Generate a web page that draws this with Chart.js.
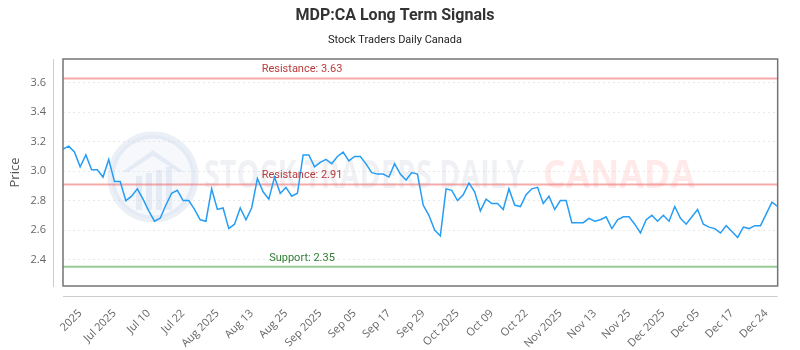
<!DOCTYPE html>
<html>
<head>
<meta charset="utf-8">
<script src="https://cdn.jsdelivr.net/npm/chart.js@4/dist/chart.umd.min.js"></script>
<style>
  html, body { margin: 0; padding: 0; background: #fff; }
</style>
</head>
<body>
<canvas id="myChart" width="800" height="350"></canvas>
<script>
// closing prices, one per trading day
const prices = [
  3.15, 3.17, 3.13, 3.03, 3.11, 3.01, 3.01, 2.96, 3.08, 2.93,
  2.93, 2.80, 2.83, 2.88, 2.81, 2.73, 2.66, 2.68, 2.77, 2.85,
  2.87, 2.80, 2.80, 2.74, 2.67, 2.66, 2.88, 2.74, 2.75, 2.61,
  2.64, 2.75, 2.67, 2.75, 2.95, 2.86, 2.81, 2.96, 2.85, 2.89,
  2.83, 2.85, 3.11, 3.11, 3.03, 3.06, 3.08, 3.05, 3.10, 3.13,
  3.07, 3.10, 3.10, 3.05, 2.99, 2.98, 2.98, 2.96, 3.05, 2.98,
  2.94, 2.99, 2.98, 2.77, 2.70, 2.60, 2.56, 2.88, 2.87, 2.80,
  2.84, 2.92, 2.86, 2.73, 2.81, 2.78, 2.78, 2.74, 2.88, 2.77,
  2.76, 2.84, 2.88, 2.89, 2.78, 2.83, 2.74, 2.80, 2.80, 2.65,
  2.65, 2.65, 2.68, 2.66, 2.67, 2.69, 2.61, 2.67, 2.69, 2.69,
  2.64, 2.58, 2.67, 2.70, 2.66, 2.70, 2.66, 2.76, 2.68, 2.64,
  2.69, 2.74, 2.64, 2.62, 2.61, 2.58, 2.63, 2.59, 2.55, 2.62,
  2.61, 2.63, 2.63, 2.71, 2.79, 2.76
];

const tickLabels = [
  '2025', 'Jul 2025', 'Jul 10', 'Jul 22', 'Aug 2025', 'Aug 13', 'Aug 25',
  'Sep 2025', 'Sep 05', 'Sep 17', 'Sep 29', 'Oct 2025', 'Oct 09', 'Oct 22',
  'Nov 2025', 'Nov 13', 'Nov 25', 'Dec 2025', 'Dec 05', 'Dec 17', 'Dec 24'
];

const levelNames = ['Resistance', 'Resistance', 'Support'];
const levelValues = [3.63, 2.91, 2.35];

const yTicks = [2.4, 2.6, 2.8, 3.0, 3.2, 3.4, 3.6];

// a label every 6th day, starting at the 4th
const tickStart = 3;
const tickStep = 6;
const labels = prices.map((p, i) =>
  (i - tickStart) % tickStep === 0 ? tickLabels[(i - tickStart) / tickStep] : '');

const levelColors = {
  Resistance: { line: 'rgba(238, 100, 100, 0.55)', text: '#b83b3b' },
  Support: { line: 'rgba(70, 160, 70, 0.55)', text: '#2f7d32' }
};

// faint logo + brand text behind the line
const watermark = {
  id: 'watermark',
  beforeDatasetsDraw(chart) {
    const ctx = chart.ctx;
    ctx.save();
    // round logo
    ctx.beginPath();
    ctx.arc(153, 177, 42, 0, Math.PI * 2);
    ctx.fillStyle = 'rgba(205, 218, 238, 0.18)';
    ctx.fill();
    ctx.lineWidth = 7;
    ctx.strokeStyle = 'rgba(190, 205, 228, 0.3)';
    ctx.stroke();
    ctx.fillStyle = 'rgba(190, 205, 228, 0.3)';
    ctx.beginPath();
    ctx.moveTo(122, 172);
    ctx.lineTo(153, 150);
    ctx.lineTo(184, 172);
    ctx.lineTo(178, 172);
    ctx.lineTo(153, 156);
    ctx.lineTo(128, 172);
    ctx.closePath();
    ctx.fill();
    [136, 146, 156, 166].forEach((x, k) => {
      ctx.fillRect(x, 176 - k * 3, 6, 34 + k * 3);
    });
    // brand text
    ctx.font = 'bold 40px "Open Sans"';
    ctx.textBaseline = 'alphabetic';
    ctx.textAlign = 'left';
    ctx.fillStyle = 'rgba(160, 170, 185, 0.16)';
    ctx.fillText('STOCK TRADERS DAILY', 204, 188, 320);
    ctx.fillStyle = 'rgba(255, 120, 120, 0.16)';
    ctx.fillText('CANADA', 543, 188, 152);
    ctx.restore();
  }
};

// level captions, frame and the detached axis lines
const decorations = {
  id: 'decorations',
  afterDraw(chart) {
    const ctx = chart.ctx;
    const area = chart.chartArea;
    const y = chart.scales.y;
    ctx.save();
    ctx.font = '11px Roboto';
    ctx.textAlign = 'center';
    ctx.textBaseline = 'middle';
    levelValues.forEach((v, i) => {
      ctx.fillStyle = levelColors[levelNames[i]].text;
      ctx.fillText(levelNames[i] + ': ' + v.toFixed(2), 302, y.getPixelForValue(v) - 9);
    });
    ctx.strokeStyle = '#747474';
    ctx.lineWidth = 1.5;
    ctx.strokeRect(area.left, area.top, area.right - area.left, area.bottom - area.top);
    ctx.strokeStyle = '#cccccc';
    ctx.lineWidth = 1;
    ctx.beginPath();
    ctx.moveTo(53.5, area.top);
    ctx.lineTo(53.5, area.bottom + 1);
    ctx.moveTo(area.left, area.bottom + 10.5);
    ctx.lineTo(area.right, area.bottom + 10.5);
    ctx.stroke();
    ctx.restore();
  }
};

const datasets = [{
  label: 'Price',
  data: prices,
  borderColor: '#259df5',
  borderWidth: 1.5,
  pointRadius: 0,
  tension: 0,
  fill: false
}];
levelValues.forEach((v, i) => {
  datasets.push({
    label: levelNames[i],
    data: prices.map(() => v),
    borderColor: levelColors[levelNames[i]].line,
    borderWidth: 2,
    pointRadius: 0,
    fill: false
  });
});

const ctx = document.getElementById('myChart');
new Chart(ctx, {
  type: 'line',
  data: { labels: labels, datasets: datasets },
  options: {
    responsive: false,
    animation: false,
    layout: { padding: { left: 0, right: 10, top: 0, bottom: 0 } },
    plugins: {
      legend: { display: false },
      tooltip: { enabled: false },
      title: {
        display: true,
        text: 'MDP:CA Long Term Signals',
        color: '#333',
        font: { family: 'Roboto', size: 16, weight: 'bold', lineHeight: 1.2 },
        padding: { top: 6, bottom: 6 }
      },
      subtitle: {
        display: true,
        text: 'Stock Traders Daily Canada',
        color: '#222',
        font: { family: 'Roboto', size: 11, lineHeight: 1.2 },
        padding: { top: 2, bottom: 12.6 }
      }
    },
    scales: {
      x: {
        grid: { display: false },
        border: { display: false },
        ticks: {
          autoSkip: false,
          minRotation: 45,
          maxRotation: 45,
          padding: 13,
          color: '#666',
          font: { family: 'Open Sans', size: 11 }
        },
        afterFit: (scale) => { scale.height = 64; }
      },
      y: {
        min: 2.22,
        max: 3.762,
        afterBuildTicks: (scale) => { scale.ticks = yTicks.map(v => ({ value: v })); },
        grid: {
          color: 'rgba(0, 0, 0, 0.09)',
          drawTicks: false
        },
        border: { display: false, dash: [2, 3] },
        ticks: {
          padding: 17,
          color: '#666',
          font: { family: 'Open Sans', size: 11 },
          callback: (v) => Number(v).toFixed(1)
        },
        title: {
          display: true,
          text: 'Price',
          color: '#555',
          font: { family: 'Open Sans', size: 13 },
          padding: { top: 7, bottom: 0 }
        },
        afterFit: (scale) => { scale.width = 63; }
      }
    }
  },
  plugins: [watermark, decorations]
});
</script>
</body>
</html>
